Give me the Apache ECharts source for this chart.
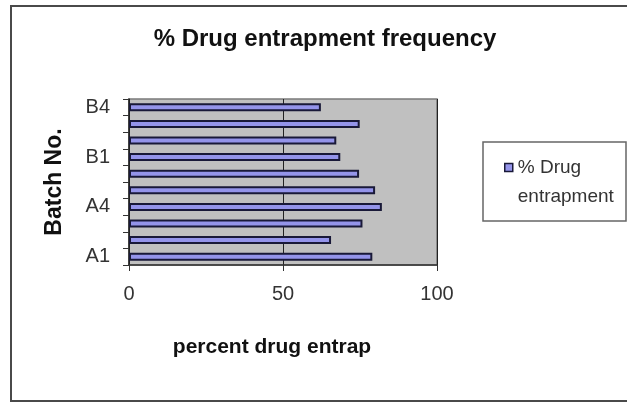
<!DOCTYPE html>
<html>
<head>
<meta charset="utf-8">
<style>
  html, body { margin: 0; padding: 0; background: #ffffff; }
  #chart { width: 627px; height: 403px; }
</style>
<script src="https://cdn.jsdelivr.net/npm/echarts@6/dist/echarts.min.js"></script>
</head>
<body>
<div id="chart"></div>
<script>
// Batches, bottom to top
const batches = ['A1', 'A2', 'A3', 'A4', 'A5', 'A6', 'B1', 'B2', 'B3', 'B4'];
// % drug entrapment per batch
const entrapment = [79.0, 65.6, 75.8, 82.1, 79.9, 74.7, 68.6, 67.3, 74.9, 62.3];
// Value axis ticks
const xTicks = [0, 50, 100];

const FONT = '"Liberation Sans", Arial, sans-serif';
const barFill = '#9494ea';
const barEdge = '#191938';

const chart = echarts.init(document.getElementById('chart'), null, { renderer: 'canvas' });

chart.setOption({
  animation: false,
  backgroundColor: '#ffffff',
  title: {
    text: '% Drug entrapment frequency',
    left: 320,
    top: 22,
    textAlign: 'center',
    textStyle: { fontFamily: FONT, fontSize: 24, fontWeight: 'bold', color: '#111' }
  },
  grid: {
    left: 129, right: 190, top: 99, bottom: 138,
    show: true,
    backgroundColor: '#c0c0c0',
    borderColor: '#7a7a7a',
    borderWidth: 1.5
  },
  legend: {
    left: 504,
    top: 124,
    padding: 0,
    icon: 'rect',
    itemWidth: 8,
    itemHeight: 8,
    itemStyle: { color: barFill, borderColor: barEdge, borderWidth: 1.5 },
    formatter: () => ' \n% Drug\nentrapment',
    textStyle: { fontFamily: FONT, fontSize: 19, color: '#333', lineHeight: 29 },
    selectedMode: false
  },
  xAxis: {
    type: 'value',
    min: xTicks[0],
    max: xTicks[xTicks.length - 1],
    interval: xTicks[1] - xTicks[0],
    name: 'percent drug entrap',
    nameLocation: 'middle',
    nameGap: 72,
    nameTextStyle: { fontFamily: FONT, fontSize: 21, fontWeight: 'bold', color: '#111', padding: [0, 22, 0, 0] },
    axisLine: { show: true, lineStyle: { color: '#333', width: 1.5 } },
    axisTick: { show: true, length: 6, lineStyle: { color: '#333' } },
    axisLabel: { margin: 19, fontFamily: FONT, fontSize: 20, color: '#333' },
    splitLine: { show: true, lineStyle: { color: '#222', width: 1 } }
  },
  yAxis: {
    type: 'category',
    data: batches,
    name: 'Batch No.',
    nameLocation: 'middle',
    nameGap: 63,
    nameRotate: 90,
    nameTextStyle: { fontFamily: FONT, fontSize: 23, fontWeight: 'bold', color: '#111' },
    axisLine: { show: true, lineStyle: { color: '#222', width: 1.5 } },
    axisTick: { show: true, interval: 0, alignWithLabel: false, length: 6, lineStyle: { color: '#333' } },
    axisLabel: { interval: 2, margin: 19, fontFamily: FONT, fontSize: 20, color: '#333' },
    splitLine: { show: false }
  },
  series: [{
    name: '% Drug entrapment',
    type: 'bar',
    data: entrapment,
    barWidth: 8,
    itemStyle: { color: barFill, borderColor: barEdge, borderWidth: 2 }
  }],
  graphic: [
    {
      type: 'rect',
      shape: { x: 11, y: 6, width: 640, height: 395 },
      style: { fill: 'none', stroke: '#4a4a4a', lineWidth: 2 },
      silent: true
    },
    {
      type: 'rect',
      shape: { x: 483, y: 142, width: 143, height: 79 },
      style: { fill: 'none', stroke: '#666', lineWidth: 1.5 },
      silent: true
    }
  ]
});
</script>
</body>
</html>
